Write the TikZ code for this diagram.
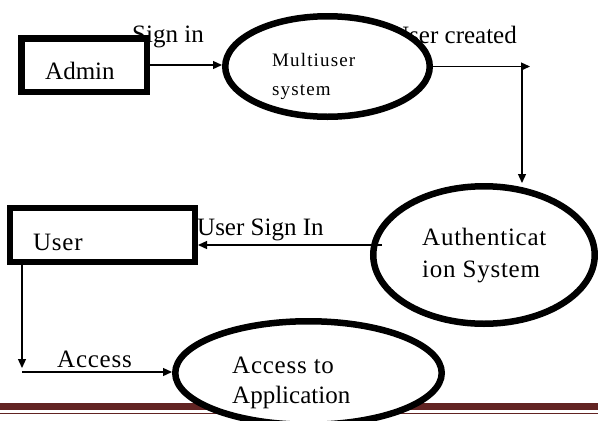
\documentclass[tikz,border=0pt]{standalone}
\usepackage{fontspec}
\setmainfont{Liberation Serif}
\usetikzlibrary{shapes.geometric,arrows.meta}
\definecolor{footred}{RGB}{98,36,35}
\begin{document}
\begin{tikzpicture}[x=1pt,y=-1pt,
  thickbox/.style={draw, line width=6.5pt, fill=white, inner sep=0pt},
  proc/.style={draw, ellipse, line width=6.5pt, fill=white, inner sep=0pt},
  lbl/.style={inner sep=0pt, anchor=base west, font=\fontsize{25}{30}\selectfont},
  ntext/.style={inner sep=0pt, anchor=base west, font=\fontsize{25}{30}\selectfont\addfontfeature{LetterSpace=3}},
  small/.style={inner sep=0pt, anchor=base west, font=\fontsize{19}{22}\selectfont\addfontfeature{LetterSpace=6}},
  arr/.style={line width=1.3pt, -{Triangle[length=9pt,width=8pt]}},
  ]
\useasboundingbox (0,0) rectangle (598,421);
% footer rule
\fill[footred] (0,403) rectangle (598,410);
\fill[footred] (0,412.5) rectangle (598,414);
% connector labels
\node[lbl] (signin) at (132,42) {Sign in};
\node[lbl] (created) at (391,43) {User created};
\node[lbl] (usersignin) at (197,235) {User Sign In};
\node[lbl, font=\fontsize{25}{30}\selectfont\addfontfeature{LetterSpace=3}] (accesslbl) at (57,367) {Access};
% nodes
\node[thickbox, minimum width=125.5pt, minimum height=53.5pt] (admin) at (84,65) {};
\node[proc, minimum width=204.5pt, minimum height=100.5pt] (multi) at (327.5,66.5) {};
\node[proc, minimum width=221.5pt, minimum height=137.5pt] (auth) at (484,255) {};
\node[thickbox, line width=6pt, minimum width=185pt, minimum height=54pt] (user) at (102.5,235) {};
\node[proc, minimum width=266.5pt, minimum height=103.5pt] (access) at (308.5,373) {};
% node texts
\node[lbl] (admintext) at (45,79) {Admin};
\node[small] (multitext1) at (272,66) {Multiuser};
\node[small] (multitext2) at (272,95) {system};
\node[ntext] (authtext1) at (422,245) {Authenticat};
\node[ntext] (authtext2) at (422,277) {ion System};
\node[ntext] (usertext) at (33,250) {User};
\node[ntext] (accesstext1) at (232,373) {Access to};
\node[lbl] (accesstext2) at (232,403) {Application};
% connectors
\coordinate (ucEnd) at (530,66.5);
\coordinate (ucTurn) at (522,66.5);
\coordinate (authOut) at (382,245);
\coordinate (accDown) at (22,368);
\coordinate (accStart) at (22,372);
\draw[arr] (admin.east) -- (admin.east -| multi.west);
\draw[arr] (multi.east) -- (ucEnd);
\draw[arr] (ucTurn) -- (ucTurn |- auth.north);
\draw[arr] (authOut) -- (authOut -| user.east);
\draw[arr] (user.south -| accDown) -- (accDown);
\draw[arr] (accStart) -- (accStart -| access.west);
\end{tikzpicture}
\end{document}
